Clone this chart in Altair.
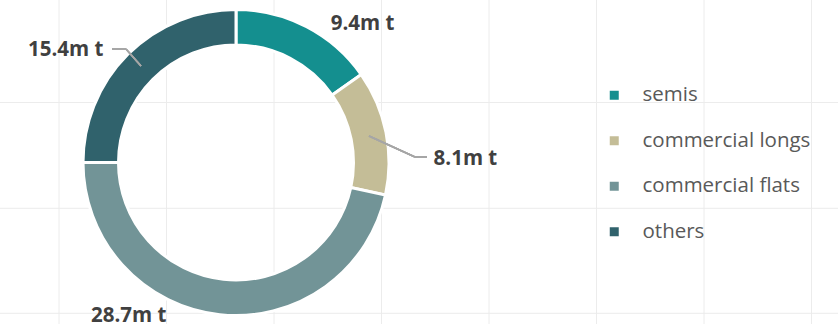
import altair as alt
import pandas as pd

# ---- data ----
categories = ["semis", "commercial longs", "commercial flats", "others"]
values = [9.4, 8.1, 28.7, 15.4]
colors = ["#148F8F", "#C4BD97", "#729497", "#30626C"]

# faint sheet grid behind the chart
grid_x = [59, 166.5, 274, 381.5, 489, 596.5, 704, 811.5]
grid_y = [102.5, 208.3, 313.3]

W, H = 838, 324
CX, CY = 236, 162.5
R_OUT, R_IN = 153, 117.5

df = pd.DataFrame({"cat": categories, "value": values, "idx": list(range(len(values)))})

color_scale = alt.Scale(domain=categories, range=colors)

base = alt.Chart(df)

grid_v = alt.Chart(pd.DataFrame({"gx": grid_x})).mark_rule(color="#ececec", strokeWidth=1).encode(
    x=alt.X("gx:Q", scale=alt.Scale(domain=[0, W]), axis=None)
)
grid_h = alt.Chart(pd.DataFrame({"gy": grid_y})).mark_rule(color="#ececec", strokeWidth=1).encode(
    y=alt.Y("gy:Q", scale=alt.Scale(domain=[0, H], reverse=True), axis=None)
)

arcs = base.mark_arc(
    radius=R_OUT, radius2=R_IN, stroke="white", strokeWidth=3
).encode(
    theta=alt.Theta("value:Q", stack=True),
    order=alt.Order("idx:Q"),
    color=alt.Color(
        "cat:N",
        scale=color_scale,
        sort=categories,
        legend=alt.Legend(
            title=None,
            orient="none",
            legendX=604,
            legendY=85,
            symbolType="square",
            symbolSize=81,
            symbolStrokeWidth=0,
            labelFont="Open Sans",
            labelFontSize=20.5,
            labelColor="#595959",
            labelOffset=18,
            labelLimit=400,
            rowPadding=24.5,
            padding=0,
        ),
    ),
    x=alt.value(CX),
    y=alt.value(CY),
)

# label offsets (style: nudges from the mid-angle anchor)
label_nudge = {
    "semis": (43.5, 21),
    "commercial longs": (53, 32),
    "commercial flats": (-88, -25),
    "others": (-43, 15),
}

label_layers = []
for cat, (ddx, ddy) in label_nudge.items():
    lay = (
        base.transform_window(cum="sum(value)", sort=[alt.SortField("idx")])
        .transform_calculate(mid="datum.cum - datum.value / 2",
                             label="format(datum.value, '.1f') + 'm t'")
        .transform_filter(alt.datum.cat == cat)
        .mark_text(
            radius=180, dx=ddx, dy=ddy, font="Open Sans", fontWeight="bold",
            fontSize=20.5, color="#404040", align="center", baseline="middle",
        )
        .encode(
            theta=alt.Theta("mid:Q", stack=None),
            text="label:N",
            x=alt.value(CX),
            y=alt.value(CY),
        )
    )
    label_layers.append(lay)

# leader lines
lead_style = dict(color="#a6a6a6", strokeWidth=1.5)
leaders = [
    alt.Chart(df).mark_rule(**lead_style).encode(x=alt.value(369), y=alt.value(136), x2=alt.value(415), y2=alt.value(157)),
    alt.Chart(df).mark_rule(**lead_style).encode(x=alt.value(415), y=alt.value(157), x2=alt.value(427), y2=alt.value(157)),
    alt.Chart(df).mark_rule(**lead_style).encode(x=alt.value(112), y=alt.value(49), x2=alt.value(126), y2=alt.value(49)),
    alt.Chart(df).mark_rule(**lead_style).encode(x=alt.value(126), y=alt.value(49), x2=alt.value(141), y2=alt.value(66)),
]

chart = alt.layer(grid_v, grid_h, arcs, *leaders, *label_layers).properties(
    width=W, height=H, autosize=alt.AutoSizeParams(type="none"), padding=0,
    background="white",
).configure_view(stroke=None)

chart.save("out.html", embed_options={"renderer": "svg", "actions": False})
